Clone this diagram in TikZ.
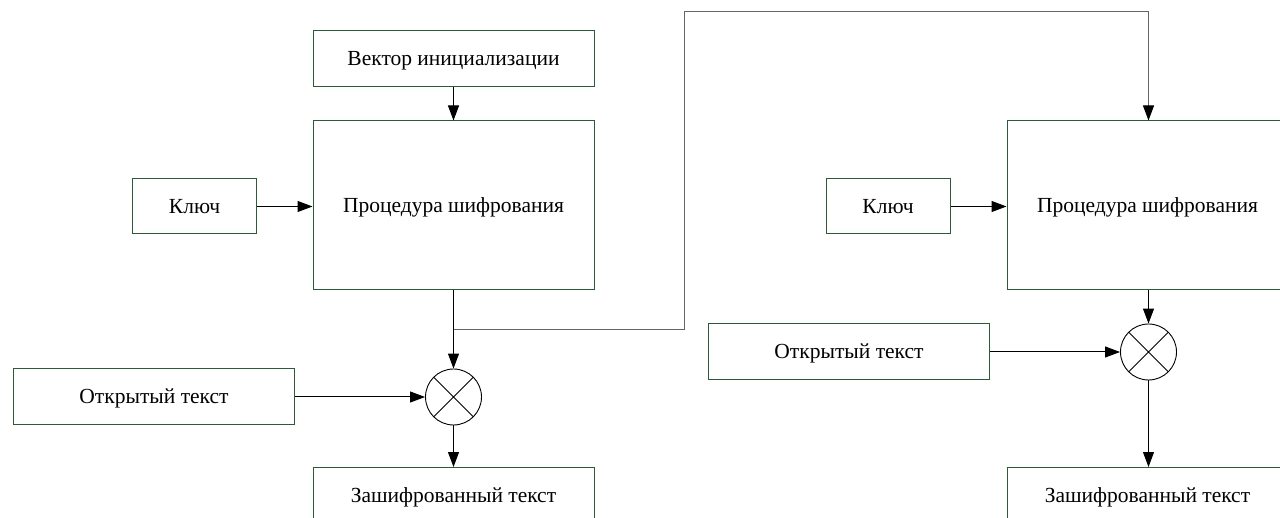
\documentclass[tikz,border=0pt]{standalone}
\usepackage{fontspec}
\setmainfont{Liberation Serif}
\usetikzlibrary{arrows.meta}
\definecolor{boxgreen}{HTML}{2E5A3A}
\tikzset{
  txt/.style={font=\fontsize{21.5}{24}\selectfont, text height=14pt, text depth=0pt},
  blk/.style={draw=boxgreen, line width=1pt, fill=white, minimum width=281pt, inner sep=0pt, txt},
  sm/.style={blk, minimum width=124pt, minimum height=55pt},
  xorc/.style={draw, circle, minimum size=56pt, inner sep=0pt, line width=0.9pt, path picture={
     \draw[line width=0.9pt] (path picture bounding box.north west) -- (path picture bounding box.south east)
       (path picture bounding box.north east) -- (path picture bounding box.south west);}},
  arr/.style={-{Triangle[length=15pt,width=11pt]}, line width=1pt},
  fb/.style={-{Triangle[length=15pt,width=11pt,color=black]}, line width=1pt, draw=black!60}
}
\begin{document}
\begin{tikzpicture}[x=1pt,y=-1pt]
\useasboundingbox (0,0) rectangle (1280,518);
\clip (0,0) rectangle (1280,518);
% left chain
\node[blk, minimum height=56pt] (iv) at (453.5,59) {Вектор инициализации};
\node[blk, minimum height=169pt] (p1) at (453.5,205.5) {Процедура шифрования};
\node[sm] (k1) at (194.5,206.5) {Ключ};
\node[xorc] (x1) at (453.5,397) {};
\node[blk, minimum height=56pt] (o1) at (154,397) {Открытый текст};
\node[blk, minimum height=60pt, anchor=north] (c1) at (453.5,467) {};
\node[txt] (c1t) at (453.5,495) {Зашифрованный текст};
% right chain
\node[blk, minimum height=169pt] (p2) at (1147.5,205.5) {Процедура шифрования};
\node[sm] (k2) at (888,206.5) {Ключ};
\node[xorc] (x2) at (1148.5,352) {};
\node[blk, minimum height=56pt] (o2) at (849,352) {Открытый текст};
\node[blk, minimum height=60pt, anchor=north] (c2) at (1147.5,467) {};
\node[txt] (c2t) at (1147.5,495) {Зашифрованный текст};
% connectors
\draw[arr] (iv.south) -- (p1.north);
\draw[arr] (k1.east) -- (p1.west |- k1.east);
\draw[arr] (p1.south) -- (x1.north);
\draw[arr] (o1.east) -- (x1.west);
\draw[arr] (x1.south) -- (c1.north);
\coordinate (t1) at (453.5,330);
\coordinate (t2) at (684,330);
\coordinate (t3) at (684,12);
\coordinate (t4) at (1148.5,12);
\draw[fb] (t1) -- (t2) -- (t3) -- (t4) -- (t4 |- p2.north);
\draw[arr] (k2.east) -- (p2.west |- k2.east);
\draw[arr] (x2.north |- p2.south) -- (x2.north);
\draw[arr] (o2.east) -- (x2.west);
\draw[arr] (x2.south) -- (x2.south |- c2.north);
\end{tikzpicture}
\end{document}
